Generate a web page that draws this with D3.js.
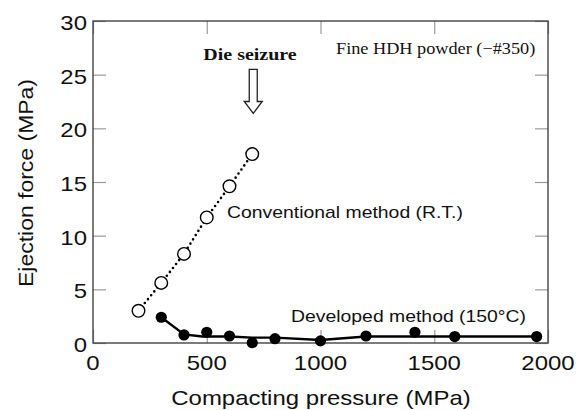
<!DOCTYPE html>
<html>
<head>
<meta charset="utf-8">
<script src="https://cdn.jsdelivr.net/npm/d3@7"></script>
<style>
  body { margin: 0; background: #fff; }
  .sans { font-family: "Liberation Sans", Arial, sans-serif; fill: #111; }
  .serif { font-family: "Liberation Serif", "Times New Roman", serif; fill: #111; }
</style>
</head>
<body>
<div id="chart"></div>
<script>
// data
var xTicks = [0, 500, 1000, 1500, 2000];
var yTicks = [0, 5, 10, 15, 20, 25, 30];

// conventional method (R.T.), open circles, dotted line
var convPressure = [200, 300, 400, 500, 600, 700];
var convForce    = [3.0, 5.6, 8.3, 11.7, 14.6, 17.6];

// developed method (150 C), filled circles
var devPressure = [300, 400, 500, 600, 700, 800, 1000, 1200, 1415, 1590, 1950];
var devForce    = [2.4, 0.75, 1.0, 0.65, 0.03, 0.4, 0.2, 0.65, 1.0, 0.6, 0.6];

// smoothed solid curve through the developed data
var devFitPressure = [300, 400, 480, 600, 700, 800, 1000, 1200, 1400, 1600, 1950];
var devFitForce    = [2.4, 0.8, 0.6, 0.6, 0.5, 0.5, 0.28, 0.6, 0.6, 0.6, 0.6];

var width = 586, height = 410;
var margin = {left: 93, top: 21, right: 38, bottom: 67};
var stretch = 1.14; // the figure's lettering is a little wide

var svg = d3.select("#chart").append("svg")
    .attr("width", width)
    .attr("height", height);

var x = d3.scaleLinear().domain([0, 2000]).range([margin.left, width - margin.right]);
var y = d3.scaleLinear().domain([0, 30]).range([height - margin.bottom, margin.top]);

var tickLen = 13;

// inward ticks on all four sides
function ticksOnly(g) {
  g.select(".domain").remove();
  g.selectAll(".tick line").attr("stroke", "#9a9a9a").attr("stroke-width", 1.2);
  g.selectAll(".tick text").remove();
}
svg.append("g").attr("transform", "translate(0," + y(0) + ")")
    .call(d3.axisBottom(x).tickValues(xTicks).tickSizeInner(-tickLen).tickSizeOuter(0)).call(ticksOnly);
svg.append("g").attr("transform", "translate(0," + y(30) + ")")
    .call(d3.axisTop(x).tickValues(xTicks).tickSizeInner(-tickLen).tickSizeOuter(0)).call(ticksOnly);
svg.append("g").attr("transform", "translate(" + x(0) + ",0)")
    .call(d3.axisLeft(y).tickValues(yTicks).tickSizeInner(-tickLen).tickSizeOuter(0)).call(ticksOnly);
svg.append("g").attr("transform", "translate(" + x(2000) + ",0)")
    .call(d3.axisRight(y).tickValues(yTicks).tickSizeInner(-tickLen).tickSizeOuter(0)).call(ticksOnly);

// frame
svg.append("rect")
    .attr("x", x(0)).attr("y", y(30))
    .attr("width", x(2000) - x(0)).attr("height", y(0) - y(30))
    .attr("fill", "none").attr("stroke", "#444").attr("stroke-width", 1.4);

// tick labels
svg.append("g").selectAll("text")
    .data(xTicks).enter().append("text")
    .attr("class", "sans stretch")
    .attr("x", function(d) { return x(d); })
    .attr("y", y(0) + 27)
    .attr("text-anchor", "middle")
    .style("font-size", "21px")
    .text(function(d) { return d; });

svg.append("g").selectAll("text")
    .data(yTicks).enter().append("text")
    .attr("class", "sans stretch")
    .attr("x", x(0) - 6)
    .attr("y", function(d) { return y(d) + 9; })
    .attr("text-anchor", "end")
    .style("font-size", "21px")
    .text(function(d) { return d; });

// axis titles
svg.append("text")
    .attr("class", "sans stretch")
    .attr("x", 321).attr("y", 405)
    .attr("text-anchor", "middle")
    .style("font-size", "21px")
    .text("Compacting pressure (MPa)");

svg.append("text")
    .attr("class", "sans")
    .attr("transform", "translate(33,183) rotate(-90)")
    .attr("text-anchor", "middle")
    .attr("textLength", 208)
    .attr("lengthAdjust", "spacingAndGlyphs")
    .style("font-size", "21px")
    .text("Ejection force (MPa)");

// conventional: dotted line + open circles
var conv = convPressure.map(function(p, i) { return [p, convForce[i]]; });
var dev = devPressure.map(function(p, i) { return [p, devForce[i]]; });
var devFit = devFitPressure.map(function(p, i) { return [p, devFitForce[i]]; });

var line = d3.line()
    .x(function(d) { return x(d[0]); })
    .y(function(d) { return y(d[1]); });

svg.append("path")
    .attr("d", line(conv))
    .attr("fill", "none")
    .attr("stroke", "#000")
    .attr("stroke-width", 2.6)
    .attr("stroke-linecap", "round")
    .attr("stroke-dasharray", "0,5");

svg.append("path")
    .attr("d", line(devFit))
    .attr("fill", "none")
    .attr("stroke", "#000")
    .attr("stroke-width", 2.4);

svg.append("g").selectAll("circle")
    .data(conv).enter().append("circle")
    .attr("cx", function(d) { return x(d[0]); })
    .attr("cy", function(d) { return y(d[1]); })
    .attr("r", 6.3)
    .attr("fill", "#fff")
    .attr("stroke", "#000")
    .attr("stroke-width", 1.4);

svg.append("g").selectAll("circle")
    .data(dev).enter().append("circle")
    .attr("cx", function(d) { return x(d[0]); })
    .attr("cy", function(d) { return y(d[1]); })
    .attr("r", 5.6)
    .attr("fill", "#000");

// "Die seizure" arrow above the last conventional point
var ax = x(700) + 1, aTop = y(25.5), aNeck = y(22.5), aTip = y(21.4);
svg.append("path")
    .attr("d", "M" + (ax - 4) + "," + aTop + "H" + (ax + 4) + "V" + aNeck +
               "H" + (ax + 9) + "L" + ax + "," + aTip + "L" + (ax - 9) + "," + aNeck +
               "H" + (ax - 4) + "Z")
    .attr("fill", "#fff")
    .attr("stroke", "#222")
    .attr("stroke-width", 1.3);

svg.append("text")
    .attr("class", "serif stretch")
    .attr("x", 250).attr("y", 60)
    .attr("text-anchor", "middle")
    .style("font-size", "17.5px")
    .style("font-weight", "bold")
    .text("Die seizure");

svg.append("text")
    .attr("class", "serif stretch")
    .attr("x", 336).attr("y", 54)
    .style("font-size", "16px")
    .text("Fine HDH powder (\u2212#350)");

svg.append("text")
    .attr("class", "sans stretch")
    .attr("x", 227).attr("y", 218)
    .style("font-size", "17px")
    .text("Conventional method (R.T.)");

svg.append("text")
    .attr("class", "sans stretch")
    .attr("x", 291).attr("y", 321.5)
    .style("font-size", "17px")
    .text("Developed method (150\u00B0C)");

// widen lettering to match the figure
svg.selectAll("text.stretch").each(function() {
  var w = this.getComputedTextLength();
  d3.select(this)
    .attr("textLength", w * stretch)
    .attr("lengthAdjust", "spacingAndGlyphs");
});
</script>
</body>
</html>
